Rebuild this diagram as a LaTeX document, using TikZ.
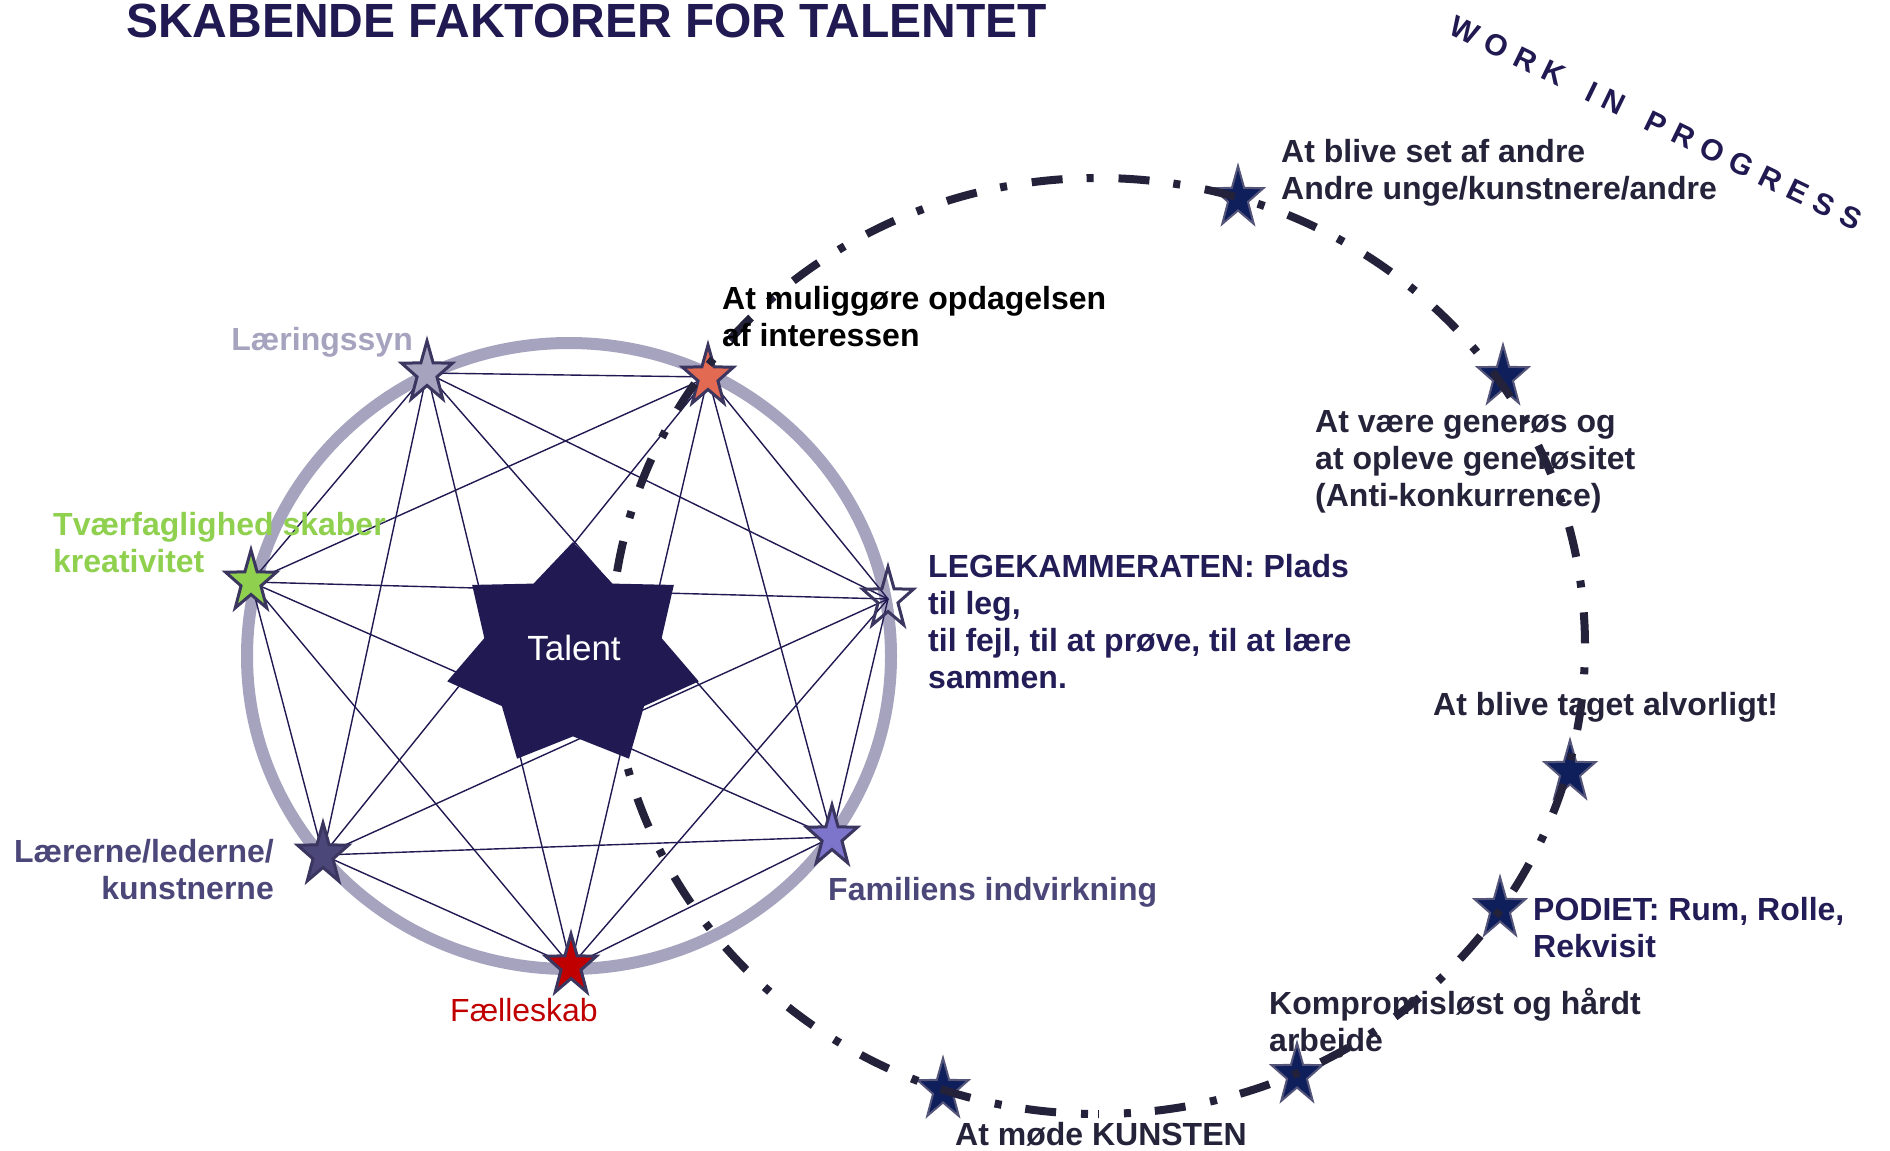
\documentclass[tikz,border=0pt]{standalone}
\usepackage{fontspec}
\setmainfont{Liberation Sans}
\definecolor{navy}{HTML}{211A52}
\definecolor{ringc}{HTML}{A6A3BF}
\definecolor{dashc}{HTML}{24223A}
\definecolor{darktxt}{HTML}{252339}
\definecolor{navytxt}{HTML}{221C57}
\definecolor{slate}{HTML}{4C4779}
\definecolor{greenc}{HTML}{8FD14F}
\definecolor{redc}{HTML}{C00000}
\definecolor{orangec}{HTML}{E26A53}
\definecolor{famc}{HTML}{7D75CC}
\definecolor{lavc}{HTML}{A6A3BF}
\definecolor{starline}{HTML}{3A3660}
\definecolor{pstarfill}{HTML}{0E1F5C}
\definecolor{pstarline}{HTML}{55557A}
\newcommand\fl{\rule{0pt}{25pt}}
\newcommand\lsp{\kern 9.4pt}
\tikzset{
  pics/fivestar/.style={code={
    \path[pic actions] plot[variable=\k, samples at={0,...,9}]
      ({(1-0.61*mod(\k,2))*26.8*cos(-90+36*\k)},
       {(1-0.61*mod(\k,2))*32*sin(-90+36*\k)}) -- cycle;
  }}
}
\begin{document}
\begin{tikzpicture}[x=1pt, y=-1pt,
  kline/.style={draw=navy, line width=1.4pt},
  ringline/.style={draw=ringc, line width=12pt},
  pathline/.style={draw=dashc, line width=8pt, dash pattern=on 31pt off 24pt on 7pt off 25pt, dash phase=45pt},
  hstar/.style={draw=starline, line width=3pt, line join=miter},
  pstar/.style={draw=pstarline, fill=pstarfill, line width=2pt},
  lbl/.style={inner sep=0pt, font=\fontsize{32}{37}\selectfont\bfseries},
  mlbl/.style={lbl, align=left, anchor=north west},
]
\fill[white] (0,0) rectangle (1890,1151);
\useasboundingbox (0,0) rectangle (1890,1151);

% ring
\draw[ringline] (569,656) ellipse [x radius=322, y radius=313];

% star positions on the ring
\coordinate (s1) at (427,373);
\coordinate (s2) at (708,377);
\coordinate (s3) at (888,599);
\coordinate (s4) at (832,837);
\coordinate (s5) at (571,966);
\coordinate (s6) at (323,855);
\coordinate (s7) at (251,582);

% stars on the path
\coordinate (p1) at (1238,198);
\coordinate (p2) at (1503,377);
\coordinate (p3) at (1570,772);
\coordinate (p4) at (1500,909);
\coordinate (p5) at (1297,1075);
\coordinate (p6) at (943,1090);

% all connections
\foreach \i in {1,...,6}{
  \pgfmathtruncatemacro\nx{\i+1}
  \foreach \j in {\nx,...,7}{
    \draw[kline] (s\i) -- (s\j);
  }
}

% stars on ring
\pic[hstar, fill=lavc] at (s1) {fivestar};
\pic[hstar, fill=orangec] at (s2) {fivestar};
\pic[hstar] at (s3) {fivestar};
\pic[hstar, fill=famc] at (s4) {fivestar};
\pic[hstar, fill=redc] at (s5) {fivestar};
\pic[hstar, fill=slate] at (s6) {fivestar};
\pic[hstar, fill=greenc] at (s7) {fivestar};

% path stars
\foreach \p in {p1,p2,p3,p4,p5,p6}{
  \pic[pstar] at (\p) {fivestar};
}

% dashed loop
\draw[pathline] (1098,646) ++(0,468) arc[start angle=90, end angle=450, x radius=487, y radius=468];

% Talent star
\fill[navy, shift={(573,656)}] plot[variable=\k, samples at={0,...,13}]
  ({(1-0.295*mod(\k,2))*129*cos(-90+180/7*\k)},
   {(1-0.295*mod(\k,2))*114*sin(-90+180/7*\k)}) -- cycle;
\node[anchor=base, inner sep=0pt, text=white, font=\fontsize{35}{40}\selectfont] (talent) at (574,660) {Talent};

% title
\node[anchor=base west, inner sep=0pt, text=navy, font=\fontsize{48}{52}\selectfont\bfseries] (title) at (126,37) {SKABENDE FAKTORER FOR TALENTET};

% work in progress
\node[rotate=-25.9, inner sep=0pt, text=navy, font=\fontsize{30}{34}\selectfont\bfseries] (wip) at (1656,123)
  {W\lsp O\lsp R\lsp K\lsp\ \lsp I\lsp N\lsp\ \lsp P\lsp R\lsp O\lsp G\lsp R\lsp E\lsp S\lsp S};

% labels around ring
\node[lbl, anchor=base east, text=lavc] (l1) at (413,350) {Læringssyn};
\node[mlbl, text=black] (l2) at (722,284) {\fl At muliggøre opdagelsen\\af interessen};
\node[mlbl, text=navytxt] (l3) at (928,552) {\fl LEGEKAMMERATEN: Plads\\til leg,\\til fejl, til at prøve, til at lære\\sammen.};
\node[lbl, anchor=base west, text=slate] (l4) at (828,900) {Familiens indvirkning};
\node[lbl, anchor=base, text=redc, font=\fontsize{32}{37}\selectfont] (l5) at (524,1021) {Fælleskab};
\node[lbl, align=right, anchor=north east, text=slate] (l6) at (274,837) {\fl Lærerne/lederne/\\kunstnerne};
\node[mlbl, text=greenc] (l7) at (53,510) {\fl Tværfaglighed skaber\\kreativitet};

% labels along the path
\node[mlbl, text=darktxt] (q1) at (1281,137) {\fl At blive set af andre\\Andre unge/kunstnere/andre};
\node[mlbl, text=darktxt] (q2) at (1315,407) {\fl At være generøs og\\at opleve generøsitet\\(Anti-konkurrence)};
\node[lbl, anchor=base west, text=darktxt] (q3) at (1433,715) {At blive taget alvorligt!};
\node[mlbl, text=navytxt] (q4) at (1533,895) {\fl PODIET: Rum, Rolle,\\Rekvisit};
\node[mlbl, text=darktxt] (q5) at (1269,988) {\fl Kompromisløst og hårdt\\arbejde};
\node[lbl, anchor=base west, text=darktxt] (q6) at (955,1145) {At møde KUNSTEN};
\end{tikzpicture}
\end{document}
